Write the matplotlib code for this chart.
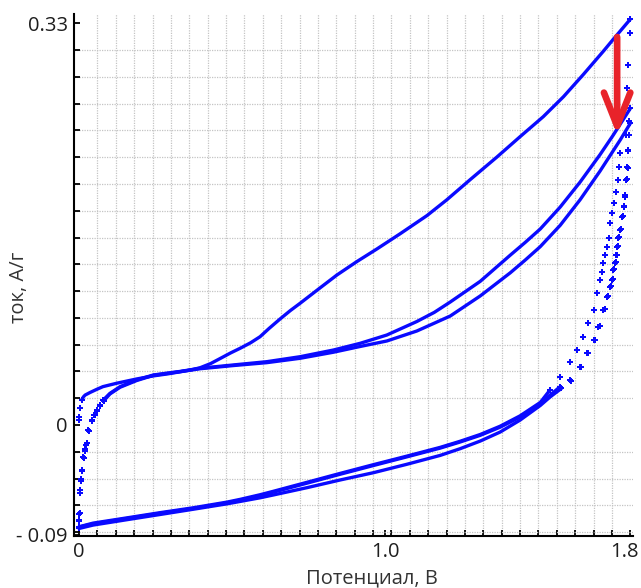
#!/usr/bin/env python3

import matplotlib
matplotlib.use("Agg")
import numpy as np
import matplotlib.pyplot as plt
from matplotlib.transforms import ScaledTranslation

plt.rcParams['font.family'] = ['Open Sans', 'DejaVu Sans']

# cycle 1, anodic sweep: sparse start points, then the continuous part
c1_start_v = [0.000, 0.001, 0.003, 0.009]
c1_start_i = [0.0041, 0.0068, 0.0137, 0.0205]
c1_fwd_v = [0.009, 0.014, 0.020, 0.036, 0.058, 0.078, 0.123, 0.188, 0.242, 0.290,
            0.330, 0.365, 0.395, 0.430, 0.460, 0.495, 0.526, 0.560, 0.591, 0.620,
            0.656, 0.690, 0.722, 0.776, 0.842, 0.907, 0.972, 1.048, 1.136, 1.201,
            1.277, 1.364, 1.440, 1.516, 1.582, 1.647, 1.712, 1.745, 1.800]
c1_fwd_i = [0.0205, 0.0230, 0.0246, 0.0267, 0.0293, 0.0315, 0.0343, 0.0378, 0.0403, 0.0420,
            0.0437, 0.0452, 0.0470, 0.0505, 0.0545, 0.0592, 0.0630, 0.0675, 0.0725, 0.0792,
            0.0870, 0.0940, 0.1000, 0.1105, 0.1232, 0.1342, 0.1445, 0.1570, 0.1720, 0.1850,
            0.2015, 0.2200, 0.2368, 0.2533, 0.2697, 0.2880, 0.3070, 0.3170, 0.3333]

# cycles 2 and 3, steep start at 0 V (sparse points)
c2_start_v = [0.000, 0.000, 0.001, 0.003, 0.005, 0.009, 0.014, 0.018, 0.023, 0.030,
              0.041, 0.050, 0.058, 0.068, 0.079]
c2_start_i = [-0.0838, -0.0780, -0.0735, -0.0534, -0.0440, -0.0370, -0.0260, -0.0210, -0.0164, -0.0041,
              0.0041, 0.0085, 0.0123, 0.0165, 0.0205]
c3_start_v = [0.000, 0.000, 0.002, 0.004, 0.006, 0.010, 0.015, 0.020, 0.025, 0.032,
              0.043, 0.052, 0.060, 0.070, 0.081]
c3_start_i = [-0.0850, -0.0790, -0.0720, -0.0560, -0.0460, -0.0380, -0.0270, -0.0200, -0.0150, -0.0050,
              0.0035, 0.0080, 0.0118, 0.0160, 0.0200]

c2_fwd_v = [0.079, 0.101, 0.134, 0.188, 0.243, 0.330, 0.395, 0.503, 0.613, 0.722,
            0.831, 0.918, 1.005, 1.103, 1.160, 1.212, 1.310, 1.408, 1.457, 1.506,
            1.571, 1.636, 1.701, 1.744, 1.800]
c2_fwd_i = [0.0205, 0.0260, 0.0315, 0.0370, 0.0411, 0.0440, 0.0466, 0.0493, 0.0520, 0.0561,
            0.0616, 0.0671, 0.0739, 0.0850, 0.0925, 0.1010, 0.1180, 0.1395, 0.1500, 0.1610,
            0.1790, 0.1995, 0.2220, 0.2380, 0.2600]
c3_fwd_v = [0.081, 0.101, 0.134, 0.188, 0.243, 0.330, 0.395, 0.503, 0.613, 0.722,
            0.831, 0.918, 1.005, 1.103, 1.212, 1.310, 1.408, 1.457, 1.506, 1.571,
            1.636, 1.701, 1.767, 1.800]
c3_fwd_i = [0.0200, 0.0255, 0.0310, 0.0365, 0.0408, 0.0438, 0.0462, 0.0488, 0.0512, 0.0548,
            0.0598, 0.0645, 0.0690, 0.0772, 0.0895, 0.1060, 0.1250, 0.1355, 0.1465, 0.1640,
            0.1850, 0.2085, 0.2341, 0.2478]

# cathodic sweeps: sparse drop right after 1.8 V
c1_drop_v = [1.800, 1.799, 1.793, 1.790, 1.794, 1.791, 1.786, 1.783, 1.778, 1.772,
             1.767, 1.761, 1.758, 1.754, 1.750, 1.743, 1.740, 1.734, 1.723, 1.712,
             1.696, 1.680, 1.658, 1.636, 1.604, 1.571]
c1_drop_i = [0.3333, 0.3220, 0.2958, 0.2768, 0.2259, 0.2111, 0.2013, 0.1875, 0.1793, 0.1711,
             0.1602, 0.1536, 0.1465, 0.1397, 0.1331, 0.1273, 0.1191, 0.1136, 0.1054, 0.0945,
             0.0808, 0.0698, 0.0589, 0.0479, 0.0370, 0.0315]
c2_drop_v = [1.800, 1.795, 1.785, 1.767, 1.764, 1.759, 1.754, 1.746, 1.740, 1.734,
             1.729, 1.723, 1.718, 1.712, 1.707, 1.702, 1.691, 1.680, 1.663, 1.647,
             1.625, 1.604, 1.571, 1.538]
c2_drop_i = [0.2600, 0.2500, 0.2380, 0.2234, 0.2119, 0.2013, 0.1917, 0.1824, 0.1742, 0.1659,
             0.1536, 0.1465, 0.1397, 0.1331, 0.1259, 0.1191, 0.1082, 0.0945, 0.0835, 0.0725,
             0.0616, 0.0520, 0.0397, 0.0288]
c3_drop_v = [1.800, 1.796, 1.793, 1.790, 1.788, 1.784, 1.780, 1.775, 1.769, 1.764,
             1.760, 1.756, 1.752, 1.746, 1.742, 1.737, 1.727, 1.716, 1.700, 1.684,
             1.662, 1.640, 1.608, 1.575]
c3_drop_i = [0.2478, 0.2380, 0.2250, 0.2120, 0.2020, 0.1890, 0.1800, 0.1720, 0.1610, 0.1545,
             0.1470, 0.1400, 0.1335, 0.1280, 0.1200, 0.1140, 0.1060, 0.0950, 0.0815, 0.0700,
             0.0590, 0.0480, 0.0365, 0.0300]

# cathodic sweeps: continuous lower branch
c1_rev_v = [1.571, 1.538, 1.506, 1.440, 1.375, 1.310, 1.244, 1.179, 1.070, 0.961,
            0.852, 0.744, 0.634, 0.591, 0.526, 0.482, 0.373, 0.265, 0.156, 0.046, 0.000]
c1_rev_i = [0.0315, 0.0245, 0.0175, 0.0065, -0.0018, -0.0085, -0.0140, -0.0190, -0.0262, -0.0333,
            -0.0405, -0.0478, -0.0552, -0.0580, -0.0617, -0.0640, -0.0686, -0.0725, -0.0768, -0.0812, -0.0838]
c2_rev_v = [1.538, 1.506, 1.440, 1.375, 1.310, 1.244, 1.179, 1.070, 0.961,
            0.852, 0.744, 0.634, 0.591, 0.526, 0.482, 0.373, 0.265, 0.156, 0.046, 0.000]
c2_rev_i = [0.0288, 0.0185, 0.0075, -0.0010, -0.0078, -0.0134, -0.0184, -0.0256, -0.0326,
            -0.0398, -0.0471, -0.0545, -0.0573, -0.0611, -0.0634, -0.0680, -0.0720, -0.0763, -0.0806, -0.0836]
c3_rev_v = [1.575, 1.538, 1.506, 1.440, 1.375, 1.310, 1.244, 1.179, 1.070, 0.961,
            0.852, 0.744, 0.634, 0.591, 0.526, 0.482, 0.373, 0.265, 0.156, 0.046, 0.000]
c3_rev_i = [0.0300, 0.0230, 0.0160, 0.0040, -0.0058, -0.0132, -0.0195, -0.0250, -0.0323, -0.0392,
            -0.0452, -0.0515, -0.0575, -0.0598, -0.0628, -0.0648, -0.0692, -0.0735, -0.0778, -0.0822, -0.0850]

x_labels = ['0', '1.0', '1.8']
x_label_pos = [0.0, 1.0, 1.8]
y_labels = ['- 0.09', '0', '0.33']
y_label_pos = [-0.09, 0.0, 0.33]


def main():
    fig = plt.figure(figsize=(6.41, 5.88), dpi=100)
    ax = fig.add_axes([0.1147, 0.0884, 0.8729, 0.8878])

    blue = '#0a0aff'
    line_kw = dict(color=blue, lw=2.4, solid_capstyle='round', solid_joinstyle='round', zorder=3)
    dot_kw = dict(color=blue, ls='none', marker='P', ms=3.8, mew=0, zorder=3)

    # continuous parts
    for v, i in [(c1_fwd_v, c1_fwd_i), (c2_fwd_v, c2_fwd_i), (c3_fwd_v, c3_fwd_i),
                 (c1_rev_v, c1_rev_i), (c2_rev_v, c2_rev_i), (c3_rev_v, c3_rev_i)]:
        ax.plot(v, i, **line_kw)

    # sparse points where the current changes fast
    for v, i in [(c1_start_v, c1_start_i), (c2_start_v, c2_start_i), (c3_start_v, c3_start_i),
                 (c1_drop_v, c1_drop_i), (c2_drop_v, c2_drop_i), (c3_drop_v, c3_drop_i)]:
        ax.plot(v, i, **dot_kw)

    # red arrow near the vertex
    ax.annotate('', xy=(1.757, 0.2382), xytext=(1.757, 0.3187),
                arrowprops=dict(arrowstyle='->,head_length=2.4,head_width=0.95',
                                lw=4.8, color='#e8232a', shrinkA=0, shrinkB=0),
                zorder=5)

    ax.set_xlim(-0.018, 1.809)
    ax.set_ylim(-0.0912, 0.3376)

    grid_x = np.round(np.arange(0, 1.8001, 0.06), 3)
    grid_y = np.round(0.33 - 0.022 * np.arange(20), 3)
    ax.set_xticks(grid_x, minor=True)
    ax.set_yticks(grid_y, minor=True)
    ax.set_xticks(x_label_pos)
    ax.set_xticklabels(x_labels)
    ax.set_yticks(y_label_pos)
    ax.set_yticklabels(y_labels)

    ax.grid(which='minor', color='#c4c4c4', ls=(0, (1, 1)), lw=0.9)
    ax.grid(which='major', visible=False)
    ax.tick_params(which='both', direction='in', length=4, width=1.3, color='black',
                   labelcolor='#1e1e1e', labelsize=14.5, pad=4)

    # keep the last x label inside the figure
    last = ax.get_xticklabels()[-1]
    last.set_transform(last.get_transform() + ScaledTranslation(-0.06, 0, fig.dpi_scale_trans))

    for side in ['top', 'right']:
        ax.spines[side].set_visible(False)
    for side in ['left', 'bottom']:
        ax.spines[side].set_linewidth(1.5)

    ax.set_xlabel('Потенциал, В', fontsize=14.5, color='#333333', va='top')
    ax.set_ylabel('ток, А/г', fontsize=14.5, color='#333333')
    ax.xaxis.set_label_coords(0.534, -0.0623)
    ax.yaxis.set_label_coords(-0.0795, 0.476)

    fig.savefig('out.png', dpi=100)


if __name__ == "__main__":
    main()
